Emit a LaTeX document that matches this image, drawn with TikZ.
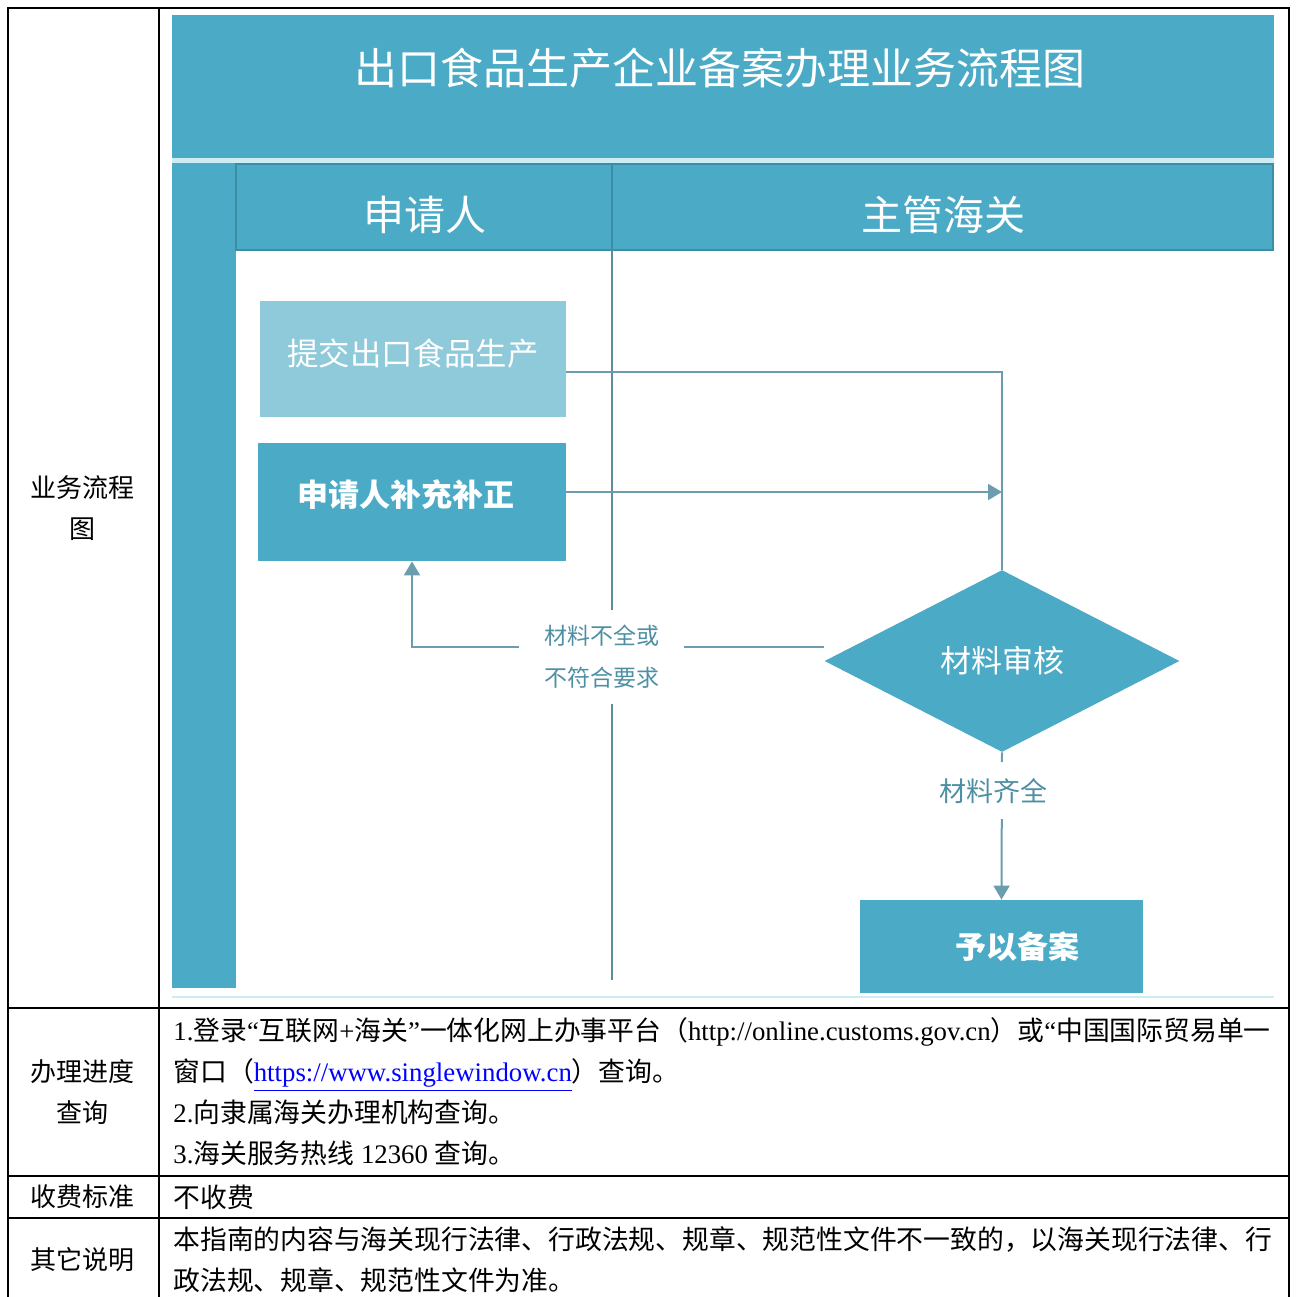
\documentclass[tikz,border=0pt]{standalone}
\usepackage{fontspec}
\setmainfont{Noto Sans CJK SC}
\newfontfamily\westfont{Liberation Serif}
\newcommand{\westtext}[1]{{\westfont #1}}
\usetikzlibrary{positioning, shapes.geometric, arrows.meta}

\definecolor{bandblue}{HTML}{4BAAC6}
\definecolor{lightbox}{HTML}{8FCADB}
\definecolor{headline}{HTML}{3C8DA6}
\definecolor{paleline}{HTML}{CDEDF3}
\definecolor{laneline}{HTML}{5F8C99}
\definecolor{flowline}{HTML}{6C9DAE}
\definecolor{flowtext}{HTML}{4E8FA4}

\tikzset{
  rule/.style={line width=1.2pt, black},
  headcell/.style={inner sep=0pt, align=center, font=\fontsize{13pt}{20.5pt}\selectfont},
  cell/.style={inner sep=0pt, align=left, anchor=west, font=\fontsize{13.4pt}{20.5pt}\selectfont},
  stepbox/.style={rectangle, fill=bandblue, text=white, inner sep=0pt},
  lanetext/.style={text=white, font=\fontsize{20.5pt}{24pt}\selectfont},
  flow/.style={draw=flowline, line width=1pt},
  lbl/.style={fill=white, text=flowtext, align=center, inner xsep=12.5pt},
}

\begin{document}
\begin{tikzpicture}[x=0.5pt, y=-0.5pt]
\useasboundingbox (0,0) rectangle (1297,1297);

% table
\draw[rule] (8,1297) -- (8,8) -- (1289,8) -- (1289,1297);
\draw[rule] (159,8) -- (159,1297);
\foreach \yy in {1008,1176,1218} \draw[rule] (8,\yy) -- (1289,\yy);

\node[headcell] (flowhead) at (83,508) {业务流程\\图};
\node[headcell] (queryhead) at (83,1092) {办理进度\\查询};
\node[headcell] (feehead) at (83,1197) {收费标准};
\node[headcell] (notehead) at (83,1260) {其它说明};

\node[cell] (query) at (173,1092) {\westtext{1.}登录\westtext{“}互联网\westtext{+}海关\westtext{”}一体化网上办事平台（\westtext{http://online.customs.gov.cn}）或\westtext{“}中国国际贸易单一\\
  窗口（\westtext{\textcolor{blue}{\underline{https://www.singlewindow.cn}}}）查询。\\
  \westtext{2.}向隶属海关办理机构查询。\\
  \westtext{3.}海关服务热线\westtext{ 12360 }查询。};
\node[cell] (fee) at (173,1197) {不收费};
\node[cell] (note) at (173,1260) {本指南的内容与海关现行法律、行政法规、规章、规范性文件不一致的，以海关现行法律、行\\
  政法规、规章、规范性文件为准。};

% flow chart background
\fill[bandblue] (172,15) rectangle (1274,158);
\fill[paleline] (172,158) rectangle (1274,163);
\fill[bandblue] (172,163) rectangle (1274,250);
\fill[bandblue] (172,250) rectangle (236,988);
\draw[headline, line width=0.8pt] (236,164) rectangle (1273,250);
\draw[headline, line width=0.8pt] (612,164) -- (612,250);
\draw[paleline, line width=1pt] (172,997) -- (1274,997);
\draw[laneline, line width=1pt] (612,250) -- (612,980);

\node[text=white, font=\fontsize{21.5pt}{26pt}\selectfont] (title) at (720,68) {出口食品生产企业备案办理业务流程图};
\node[lanetext] (applicant) at (425,215) {申请人};
\node[lanetext] (customs) at (943,215) {主管海关};

% steps
\node[stepbox, fill=lightbox, minimum width=153pt, minimum height=58pt,
  font=\fontsize{15.7pt}{20pt}\selectfont] (submit) at (413,359) {\raisebox{6.5pt}{提交出口食品生产}};
\node[stepbox, minimum width=154pt, minimum height=59pt,
  font=\fontsize{15.5pt}{18pt}\selectfont\bfseries] (amend) at (412,502) {\raisebox{9pt}{申请人补充补正\hspace{6pt}}};
\node[diamond, fill=bandblue, text=white, inner sep=0pt, minimum width=177.5pt, minimum height=91pt,
  font=\fontsize{15.5pt}{18pt}\selectfont] (review) at (1002,661) {材料审核};
\node[stepbox, minimum width=141.5pt, minimum height=46.5pt,
  font=\fontsize{15.5pt}{18pt}\selectfont\bfseries] (result) at (1001.5,946.5) {\raisebox{-2pt}{\hspace{16pt}予以备案}};

% connectors
\draw[flow] ([yshift=-6.5pt]submit.east) -| (review.north);
\draw[flow, -{Triangle[length=7pt,width=8pt]}] ([yshift=5pt]amend.east) -- ([yshift=5pt]amend.east -| review.north);
\draw[flow, -{Triangle[length=7pt,width=8pt]}] ([yshift=7pt]review.west) -| node[lbl, pos=0.27, yshift=-5pt, inner ysep=7.5pt,
  font=\fontsize{11.5pt}{21pt}\selectfont] (short) {材料不全或\\不符合要求} (amend.south);
\draw[flow, -{Triangle[length=7pt,width=8pt]}] (review.south) -- node[lbl, pos=0.26, inner ysep=8pt,
  font=\fontsize{13.5pt}{16pt}\selectfont] (full) {\hspace{-8pt}材料齐全} (result.north);
\end{tikzpicture}
\end{document}
